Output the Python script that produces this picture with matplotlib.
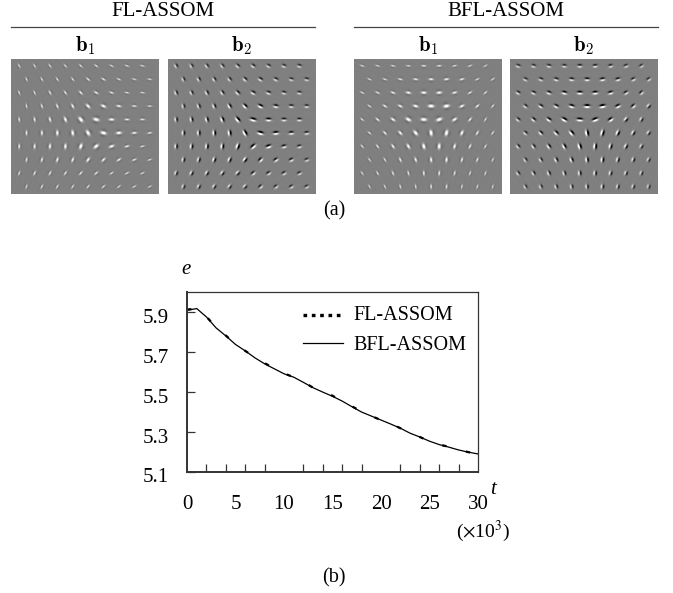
import numpy as np
import matplotlib
matplotlib.use("Agg")
import matplotlib.pyplot as plt
from matplotlib.lines import Line2D
from matplotlib.transforms import ScaledTranslation

plt.rcParams['font.family'] = ['Liberation Serif', 'DejaVu Serif']
plt.rcParams['mathtext.fontset'] = 'cm'

# Curve values
t_values = [0, 1, 2, 3, 4, 5, 6, 7, 8, 9, 10, 11, 12, 13, 14, 15, 16, 17, 18, 19, 20, 21, 22, 23, 24, 25, 26, 27, 28, 29, 30]
bfl_error = [5.908, 5.917, 5.875, 5.82, 5.78, 5.737, 5.705, 5.67, 5.64, 5.615, 5.59, 5.573, 5.547, 5.52, 5.498, 5.477,
             5.453, 5.425, 5.398, 5.378, 5.358, 5.338, 5.317, 5.292, 5.273, 5.252, 5.235, 5.222, 5.208, 5.197, 5.188]
fl_error = [5.912, 5.917, 5.877, 5.822, 5.782, 5.739, 5.705, 5.672, 5.644, 5.615, 5.592, 5.573, 5.55, 5.52, 5.5, 5.48,
            5.453, 5.427, 5.4, 5.378, 5.358, 5.34, 5.317, 5.294, 5.273, 5.252, 5.235, 5.224, 5.21, 5.197, 5.188]
x_tick_labels = [0, 5, 10, 15, 20, 25, 30]
y_tick_labels = [5.1, 5.3, 5.5, 5.7, 5.9]
legend_labels = ['FL-ASSOM', 'BFL-ASSOM']

# Orientation (degrees) of each receptive field, rows of 9 fields
fl_orient = [[120, 122, 125, 130, 138, 145, 152, 160, 165],
             [115, 118, 122, 128, 138, 148, 155, 165, 170],
             [112, 115, 118, 125, 135, 150, 160, 168, 172],
             [102, 108, 112, 120, 135, 155, 170, 175, 178],
             [97, 100, 105, 112, 130, 165, 178, 178, 178],
             [90, 92, 92, 98, 120, 165, 5, 5, 8],
             [88, 85, 85, 85, 70, 40, 20, 15, 15],
             [80, 75, 72, 68, 55, 45, 35, 25, 20],
             [70, 65, 60, 55, 48, 40, 35, 30, 28],
             [72, 65, 60, 55, 50, 42, 38, 32, 28]]
bfl_orient = [[160, 165, 170, 175, 178, 5, 12, 20, 30],
              [155, 160, 165, 172, 178, 8, 15, 25, 35],
              [150, 155, 160, 168, 178, 5, 15, 30, 40],
              [145, 148, 155, 165, 178, 10, 25, 40, 50],
              [140, 140, 145, 150, 175, 20, 35, 50, 60],
              [140, 135, 135, 130, 100, 75, 65, 60, 55],
              [130, 125, 125, 120, 105, 85, 75, 65, 60],
              [125, 120, 115, 110, 95, 85, 75, 70, 65],
              [125, 120, 112, 105, 95, 85, 75, 70, 70],
              [120, 115, 108, 100, 92, 85, 78, 72, 75]]
# Strength of each receptive field
fl_strength = [[.55, .55, .55, .55, .6, .6, .55, .55, .55],
               [.55, .6, .6, .6, .65, .65, .6, .55, .55],
               [.6, .6, .65, .65, .7, .7, .65, .6, .55],
               [.6, .65, .7, .75, .85, .85, .75, .65, .6],
               [.65, .7, .75, .85, 1.0, 1.0, .85, .7, .65],
               [.7, .75, .85, .9, 1.0, 1.0, .9, .75, .65],
               [.7, .75, .8, .85, .95, .95, .85, .7, .6],
               [.65, .7, .75, .75, .8, .75, .7, .65, .55],
               [.6, .65, .65, .65, .65, .65, .6, .6, .55],
               [.55, .6, .6, .6, .6, .6, .55, .55, .5]]
bfl_strength = [[.55, .55, .6, .6, .65, .65, .6, .55, .5],
                [.55, .6, .65, .7, .75, .75, .7, .6, .55],
                [.6, .65, .7, .8, .85, .85, .75, .65, .6],
                [.6, .7, .75, .85, 1.0, 1.0, .8, .7, .6],
                [.6, .7, .8, .95, 1.0, 1.0, .85, .7, .6],
                [.6, .7, .8, .95, 1.0, 1.0, .85, .7, .6],
                [.6, .65, .75, .85, .95, .95, .8, .7, .6],
                [.55, .6, .7, .75, .8, .8, .7, .65, .55],
                [.55, .6, .65, .65, .7, .7, .65, .6, .55],
                [.5, .55, .6, .6, .65, .65, .6, .55, .5]]

W, H = 673, 593
fig = plt.figure(figsize=(W / 100, H / 100), dpi=100, facecolor='white')


def fx(px):
    return px / W


def fy(py):
    return 1 - py / H


def field_image(orient, strength, odd):
    w, h = 148, 135
    yy, xx = np.mgrid[0:h, 0:w]
    img = np.zeros((h, w))
    for r in range(10):
        for c in range(9):
            cx = (7.7 if r % 2 == 0 else 15.0) + 15.4 * c
            cy = 6.3 + 13.42 * r
            a = strength[r][c]
            ang = orient[r][c] % 180
            th = np.deg2rad(ang)
            dx, dy = xx - cx, cy - yy
            along = dx * np.cos(th) + dy * np.sin(th)
            across = -dx * np.sin(th) + dy * np.cos(th)
            round_part = max(a - 0.6, 0) / 0.4
            s_long = 1.45 + 0.45 * round_part
            if odd:
                sign = -1 if ang > 45 else 1
                g = np.exp(-along ** 2 / (2 * s_long ** 2) - across ** 2 / (2 * 1.25 ** 2))
                img -= sign * 2.0 * a * g * np.sin(2 * np.pi * across / 6.0)
            else:
                s_short = 1.0 + 0.75 * round_part
                g = np.exp(-along ** 2 / (2 * s_long ** 2) - across ** 2 / (2 * s_short ** 2))
                img += 1.25 * a * g * np.cos(2 * np.pi * across / (5.0 * s_short))
    return 0.5 + 0.5 * img


panels = [(11, 148, fl_orient, fl_strength, False),
          (168, 148, fl_orient, fl_strength, True),
          (354, 148, bfl_orient, bfl_strength, False),
          (510, 148, bfl_orient, bfl_strength, True)]
for left, width, orient, strength, odd in panels:
    ax_img = fig.add_axes([fx(left), fy(194), width / W, 135 / H])
    ax_img.imshow(field_image(orient, strength, odd), cmap='gray', vmin=0, vmax=1,
                  interpolation='bilinear', aspect='auto')
    ax_img.axis('off')
    fig.text(fx(left + width / 2), fy(46), r'$\mathbf{b}_1$' if not odd else r'$\mathbf{b}_2$',
             ha='center', va='center', fontsize=15)

for x0, x1, title in [(11, 315, 'FL-ASSOM'), (354, 658, 'BFL-ASSOM')]:
    fig.add_artist(Line2D([fx(x0), fx(x1)], [fy(27), fy(27)], color='#444444', lw=0.9))
    fig.text(fx((x0 + x1) / 2), fy(11), title, ha='center', va='center', fontsize=15)

fig.text(fx(334), fy(211), '(a)', ha='center', va='center', fontsize=14.5)
fig.text(fx(334), fy(578), '(b)', ha='center', va='center', fontsize=14.5)

ax = fig.add_axes([fx(187), fy(471.5), 291 / W, 179.5 / H])
ax.plot(t_values, fl_error, color='black', lw=1.6, ls=(0, (2, 9)))
ax.plot(t_values, bfl_error, color='black', lw=0.9)
ax.set_xlim(0, 30)
ax.set_ylim(5.1, 6.0)
ax.set_xticks(x_tick_labels)
ax.set_xticks(np.arange(0, 31, 2), minor=True)
ax.set_yticks(y_tick_labels)
ax.set_yticklabels([f'{v:.1f}' for v in y_tick_labels])
ax.tick_params(axis='x', which='major', length=0, labelsize=15, pad=17)
ax.tick_params(axis='x', which='minor', length=5.5, width=0.9, direction='in', color='#333333')
ax.tick_params(axis='y', which='major', length=5.5, width=0.9, direction='in', labelsize=15, pad=13,
               color='#333333', left=True)
shift = ScaledTranslation(0, -4 / 100, fig.dpi_scale_trans)
for lab in ax.get_yticklabels():
    lab.set_transform(lab.get_transform() + shift)
for side, lw in [('left', 1.4), ('bottom', 1.4), ('top', 0.9), ('right', 0.9)]:
    ax.spines[side].set_linewidth(lw)
    ax.spines[side].set_color('#333333')

ax.add_line(Line2D([fx(303), fx(343)], [fy(315), fy(315)], transform=fig.transFigure, color='black', lw=2.4,
                   ls=(0, (1.1, 1.4)), clip_on=False))
ax.add_line(Line2D([fx(303), fx(343)], [fy(343), fy(343)], transform=fig.transFigure, color='black', lw=0.9,
                   clip_on=False))
fig.text(fx(353), fy(316), legend_labels[0], ha='left', va='center', fontsize=14.5)
fig.text(fx(353), fy(345), legend_labels[1], ha='left', va='center', fontsize=14.5)

fig.text(fx(186), fy(270), 'e', style='italic', ha='center', va='center', fontsize=15)
fig.text(fx(493), fy(490), 't', style='italic', ha='center', va='center', fontsize=15)
fig.text(fx(483), fy(531), r'($\times$10$^{3}$)', ha='center', va='center', fontsize=14, math_fontfamily='stix')

fig.savefig('out.png', dpi=100, facecolor='white')
